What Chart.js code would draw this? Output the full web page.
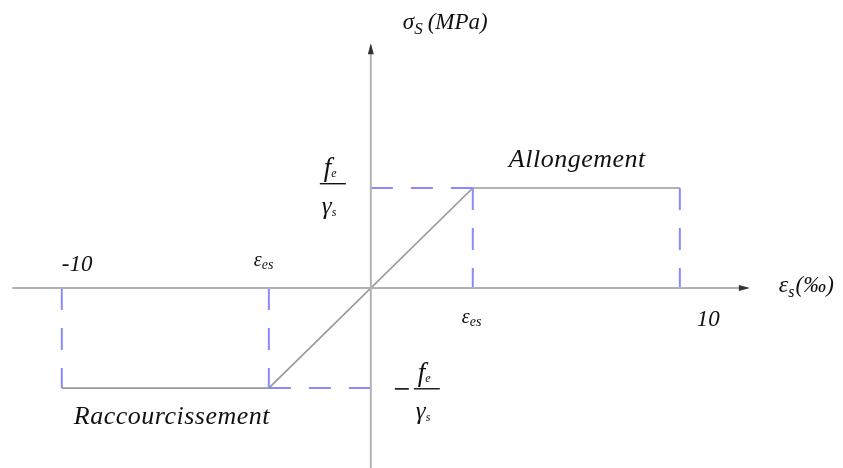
<!DOCTYPE html>
<html>
<head>
<meta charset="utf-8">
<script src="https://cdn.jsdelivr.net/npm/chart.js@4/dist/chart.umd.min.js"></script>
<style>
  body { margin: 0; background: #fff; }
  canvas { display: block; }
</style>
</head>
<body>
<canvas id="steelChart" width="843" height="468"></canvas>
<script>
// strain (per mille) and stress (MPa) of the bilinear steel law
const strainPoints = [-10, -3.3, 3.3, 10];
const stressPoints = [-348, -348, 348, 348];
const tickLabels = ['-10', 'εes', 'εes', '10'];
const regionLabels = ['Raccourcissement', 'Allongement'];
const axisExtentX = [-11.6, 12.2];
const axisExtentY = [-626, 845];

const ctx = document.getElementById('steelChart');
const pt = (x, y) => ({ x: x, y: y });

const lawData = strainPoints.map((e, i) => pt(e, stressPoints[i]));
const fyd = stressPoints[3];
const eyd = strainPoints[2];
const eMax = strainPoints[3];
const eMin = strainPoints[0];

const guideStyle = {
  borderColor: '#8a8aff',
  borderWidth: 2,
  borderDash: [22, 18],
  pointRadius: 0,
  showLine: true,
  fill: false
};
const guides = [
  [pt(0, fyd), pt(eyd, fyd)],
  [pt(eyd, fyd), pt(eyd, 0)],
  [pt(eMax, fyd), pt(eMax, 0)],
  [pt(eMin, 0), pt(eMin, -fyd)],
  [pt(-eyd, 0), pt(-eyd, -fyd)],
  [pt(-eyd, -fyd), pt(0, -fyd)]
].map(d => Object.assign({ data: d }, guideStyle));

const axisStyle = { borderColor: '#b2b2b2', borderWidth: 2, pointRadius: 0, showLine: true };

const italic = (size) => 'italic ' + size + 'px "Liberation Serif", "Times New Roman", serif';

function withSub(c, main, sub, x, y, size, subSize, subDrop) {
  c.font = italic(size);
  c.fillText(main, x, y);
  const w = c.measureText(main).width;
  c.font = italic(subSize);
  c.fillText(sub, x + w, y + subDrop);
  return w + c.measureText(sub).width;
}

function fraction(c, cx, barY) {
  c.fillStyle = '#111';
  c.textAlign = 'left';
  withSub(c, 'f', 'e', cx - 8, barY - 7, 27, 12, 1);
  c.fillRect(cx - 12, barY, 26, 1.4);
  withSub(c, 'γ', 's', cx - 10, barY + 31, 25, 12, 2);
}

const annotations = {
  id: 'annotations',
  afterDatasetsDraw(chart) {
    const c = chart.ctx;
    const xs = chart.scales.x, ys = chart.scales.y;
    const x0 = xs.getPixelForValue(0), y0 = ys.getPixelForValue(0);
    const xEnd = xs.getPixelForValue(axisExtentX[1]);
    const yTop = ys.getPixelForValue(axisExtentY[1]);
    c.save();
    // arrow heads
    c.fillStyle = '#333';
    c.beginPath();
    c.moveTo(xEnd + 2, y0);
    c.lineTo(xEnd - 9, y0 - 3);
    c.lineTo(xEnd - 9, y0 + 3);
    c.closePath();
    c.fill();
    c.beginPath();
    c.moveTo(x0, yTop - 2);
    c.lineTo(x0 - 3, yTop + 9);
    c.lineTo(x0 + 3, yTop + 9);
    c.closePath();
    c.fill();

    c.fillStyle = '#111';
    c.textAlign = 'left';
    c.textBaseline = 'alphabetic';
    // axis titles
    const wsig = withSub(c, 'σ', 'S', x0 + 32, 29, 23, 17, 5);
    c.font = italic(23);
    c.fillText('(MPa)', x0 + 32 + wsig + 5, 29);
    const ws = withSub(c, 'ε', 's', xEnd + 31, y0 + 4, 24, 16, 5);
    c.font = italic(23);
    c.fillText('(‰)', xEnd + 31 + ws + 1, y0 + 4);

    // tick labels
    c.font = italic(23);
    c.fillText(tickLabels[0], xs.getPixelForValue(strainPoints[0]), y0 - 17);
    c.fillText(tickLabels[3], xs.getPixelForValue(strainPoints[3]) + 17, y0 + 38);
    const epsLabel = (x, y) => {
      withSub(c, 'ε', 'es', x, y, 20, 14, 3);
    };
    epsLabel(xs.getPixelForValue(strainPoints[1]) - 15, y0 - 22);
    epsLabel(xs.getPixelForValue(strainPoints[2]) - 11, y0 + 35);

    // stress levels
    fraction(c, x0 - 39, ys.getPixelForValue(fyd) - 5);
    const yLow = ys.getPixelForValue(-fyd);
    c.fillRect(x0 + 24, yLow, 14, 1.6);
    fraction(c, x0 + 55, yLow);

    // regions
    c.font = italic(26);
    c.letterSpacing = '0.5px';
    c.fillText(regionLabels[1], xs.getPixelForValue(eyd) + 36, ys.getPixelForValue(fyd) - 21);
    c.fillText(regionLabels[0], xs.getPixelForValue(eMin) + 12, yLow + 36);
    c.restore();
  }
};

new Chart(ctx, {
  type: 'scatter',
  data: {
    datasets: [
      Object.assign({ data: [pt(axisExtentX[0], 0), pt(axisExtentX[1], 0)] }, axisStyle),
      Object.assign({ data: [pt(0, axisExtentY[0]), pt(0, axisExtentY[1])] }, axisStyle),
      ...guides,
      {
        data: lawData,
        borderColor: '#999999',
        borderWidth: 1.7,
        pointRadius: 0,
        showLine: true,
        fill: false
      }
    ]
  },
  options: {
    responsive: false,
    animation: false,
    layout: { padding: 0 },
    scales: {
      x: { type: 'linear', display: false, min: -12.0, max: 15.28 },
      y: { type: 'linear', display: false, min: -626, max: 1002 }
    },
    plugins: {
      legend: { display: false },
      tooltip: { enabled: false }
    }
  },
  plugins: [annotations]
});
</script>
</body>
</html>
